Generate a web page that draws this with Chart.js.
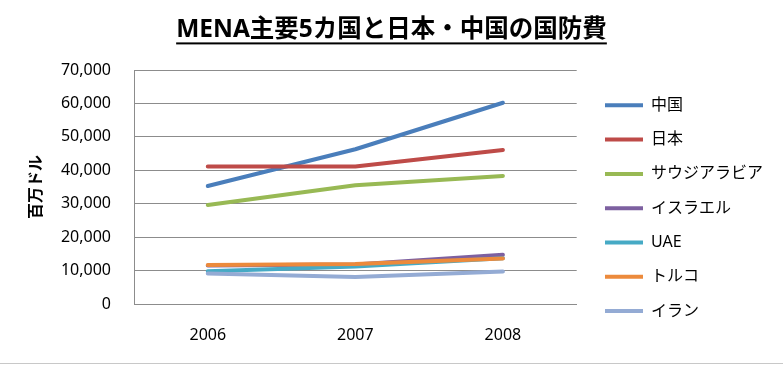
<!DOCTYPE html>
<html>
<head>
<meta charset="utf-8">
<script src="https://cdn.jsdelivr.net/npm/chart.js@4/dist/chart.umd.min.js"></script>
<style>
  html, body { margin: 0; padding: 0; background: #fff; }
  #wrap { width: 783px; height: 363px; border-bottom: 1px solid #c8c8c8; }
</style>
</head>
<body>
<div id="wrap"><canvas id="defense-chart" width="783" height="363"></canvas></div>
<script>
const years = ['2006', '2007', '2008'];
const seriesNames = ['中国', '日本', 'サウジアラビア', 'イスラエル', 'UAE', 'トルコ', 'イラン'];
const china = [35300, 46300, 60200];
const japan = [41100, 41100, 46100];
const saudi = [29600, 35500, 38300];
const israel = [11500, 11800, 14700];
const uae = [9800, 11200, 13700];
const turkey = [11700, 12000, 13600];
const iran = [9100, 8100, 9700];
const yTicks = [0, 10000, 20000, 30000, 40000, 50000, 60000, 70000];

const seriesValues = [china, japan, saudi, israel, uae, turkey, iran];
const colors = ['#4a7ebb', '#be4b48', '#98b954', '#7d60a0', '#46aac5', '#ec8a3c', '#94abd4'];

const JP = "'Noto Sans', 'Noto Sans CJK JP', sans-serif";
const TITLE_PAD = { top: 15, bottom: 25.6 };
const LEGEND_NUDGE = { x: 10, y: 79 };

// Excel-style underline under the chart title
const titleUnderline = {
  id: 'titleUnderline',
  afterDraw(chart) {
    const t = chart.titleBlock;
    if (!t) return;
    const ctx = chart.ctx;
    const f = Chart.helpers.toFont(t.options.font);
    ctx.save();
    ctx.font = f.string;
    const w = ctx.measureText(t.options.text).width;
    const cx = (t.left + t.right) / 2;
    const y = t.top + TITLE_PAD.top + f.lineHeight - 2;
    ctx.fillStyle = '#000';
    ctx.fillRect(cx - w / 2, y, w, 2);
    ctx.restore();
  }
};

// title centred on the whole canvas, legend block shifted as in the original
const layoutTweak = {
  id: 'layoutTweak',
  afterLayout(chart) {
    const t = chart.titleBlock;
    t.left = 0; t.right = chart.width; t.width = chart.width;
    const lg = chart.legend;
    lg.left += LEGEND_NUDGE.x; lg.right += LEGEND_NUDGE.x;
    lg.top += LEGEND_NUDGE.y; lg.bottom += LEGEND_NUDGE.y;
  }
};

const datasets = seriesNames.map((name, i) => ({
  label: name,
  data: seriesValues[i],
  borderColor: colors[i],
  backgroundColor: colors[i],
  borderWidth: 4,
  borderCapStyle: 'round',
  borderJoinStyle: 'round',
  pointRadius: 0,
  tension: 0,
  order: seriesNames.length - 1 - i
}));

new Chart(document.getElementById('defense-chart'), {
  type: 'line',
  data: { labels: years, datasets },
  plugins: [titleUnderline, layoutTweak],
  options: {
    responsive: false,
    animation: false,
    events: [],
    layout: { padding: { left: 0, right: 20, top: 0, bottom: 0 } },
    plugins: {
      title: {
        display: true,
        text: 'MENA主要5カ国と日本・中国の国防費',
        color: '#000',
        font: { family: JP, size: 24.5, weight: 'bold' },
        padding: TITLE_PAD
      },
      legend: {
        position: 'right',
        align: 'start',
        fullSize: true,
        labels: {
          usePointStyle: true,
          pointStyle: 'line',
          pointStyleWidth: 38,
          padding: 18.3,
          color: '#000',
          font: { family: JP, size: 16 },
          sort: (a, b) => a.datasetIndex - b.datasetIndex
        }
      },
      tooltip: { enabled: false }
    },
    scales: {
      x: {
        offset: true,
        grid: { display: false, drawTicks: false },
        border: { color: '#8c8c8c' },
        ticks: { color: '#000', padding: 22, font: { family: JP, size: 16 } },
        afterFit: s => { s.height = 59; }
      },
      y: {
        min: 0,
        max: 70000,
        afterBuildTicks: s => { s.ticks = yTicks.map(v => ({ value: v })); },
        grid: { color: '#8c8c8c', drawTicks: false },
        border: { color: '#8c8c8c' },
        ticks: {
          color: '#000',
          padding: 23,
          font: { family: JP, size: 16 },
          callback: v => v.toLocaleString('en-US')
        },
        title: {
          display: true,
          text: '百万ドル',
          color: '#000',
          font: { family: JP, size: 16, weight: 'bold' },
          padding: { top: 27, bottom: 0 }
        },
        afterFit: s => { s.width = 134; }
      }
    }
  }
});
</script>
</body>
</html>
